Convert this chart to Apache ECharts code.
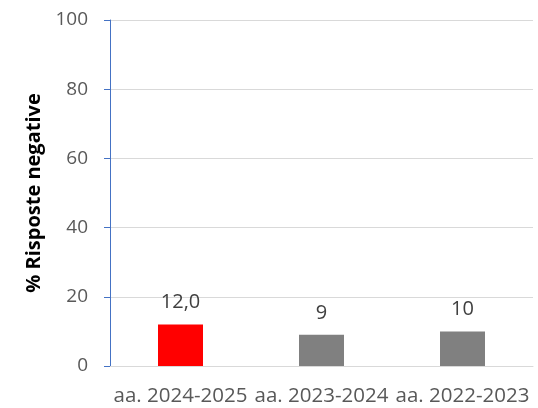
<!DOCTYPE html>
<html>
<head>
<meta charset="utf-8">
<script src="https://cdn.jsdelivr.net/npm/echarts@6/dist/echarts.min.js"></script>
<style>
  html, body { margin: 0; padding: 0; background: #fff; }
  #chart { width: 538px; height: 408px; }
</style>
</head>
<body>
<div id="chart"></div>
<script>
// dati
var categories = ['aa. 2024-2025', 'aa. 2023-2024', 'aa. 2022-2023'];
var values = [12.0, 9, 10];
var valueLabels = ['12,0', '9', '10'];
var barColors = ['#ff0000', '#808080', '#808080'];

var chart = echarts.init(document.getElementById('chart'));
var option = {
  backgroundColor: '#fff',
  animation: false,
  grid: { left: 110, right: 5, top: 20, bottom: 42 },
  xAxis: {
    type: 'category',
    data: categories,
    axisLine: { show: true, lineStyle: { color: '#d9d9d9', width: 1 } },
    axisTick: { show: false },
    axisLabel: {
      color: '#595959',
      fontSize: 20.5,
      fontFamily: 'Open Sans, sans-serif',
      margin: 20,
      interval: 0
    }
  },
  yAxis: {
    type: 'value',
    min: 0,
    max: 100,
    interval: 20,
    name: '% Risposte negative',
    nameLocation: 'middle',
    nameGap: 66,
    nameTextStyle: {
      color: '#000',
      fontSize: 20,
      fontWeight: 'bold',
      fontFamily: 'Open Sans, sans-serif'
    },
    axisLine: { show: true, lineStyle: { color: '#4472c4', width: 1 } },
    axisTick: { show: true, length: 6, lineStyle: { color: '#4472c4' } },
    axisLabel: {
      color: '#595959',
      fontSize: 19,
      fontFamily: 'Open Sans, sans-serif',
      margin: 22
    },
    splitLine: { show: true, lineStyle: { color: '#d9d9d9', width: 1 } }
  },
  series: [{
    type: 'bar',
    barWidth: 45,
    data: values.map(function (v, i) {
      return { value: v, itemStyle: { color: barColors[i] } };
    }),
    label: {
      show: true,
      position: 'top',
      distance: 12,
      color: '#404040',
      fontSize: 20,
      fontFamily: 'Open Sans, sans-serif',
      formatter: function (p) { return valueLabels[p.dataIndex]; }
    }
  }]
};
chart.setOption(option);
</script>
</body>
</html>
